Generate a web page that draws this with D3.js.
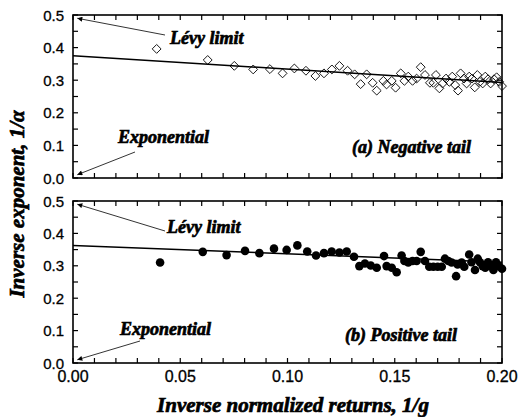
<!DOCTYPE html>
<html>
<head>
<meta charset="utf-8">
<script src="https://cdnjs.cloudflare.com/ajax/libs/d3/7.8.5/d3.min.js"></script>
<style>
  html, body { margin: 0; padding: 0; background: #fff; }
  svg { display: block; }
</style>
</head>
<body>
<svg id="chart" width="520" height="417"></svg>
<script>
// Inverse normalized returns 1/g and inverse tail exponent 1/alpha
const negX = [0.039, 0.0628, 0.0752, 0.084, 0.0918, 0.0977, 0.1032, 0.1086, 0.113, 0.117, 0.1207, 0.1242, 0.128, 0.1313, 0.1341, 0.1369, 0.1397, 0.1416, 0.1447, 0.1462, 0.1486, 0.1504, 0.1528, 0.1545, 0.1563, 0.1583, 0.1602, 0.1621, 0.1641, 0.1664, 0.168, 0.1692, 0.1708, 0.1723, 0.1739, 0.1754, 0.1768, 0.1782, 0.1795, 0.1807, 0.1823, 0.1835, 0.1847, 0.186, 0.1873, 0.1885, 0.1897, 0.191, 0.1922, 0.1935, 0.1947, 0.1963, 0.1975, 0.1987, 0.2];
const negY = [0.396, 0.362, 0.344, 0.333, 0.334, 0.321, 0.336, 0.329, 0.313, 0.321, 0.333, 0.344, 0.329, 0.318, 0.288, 0.318, 0.292, 0.268, 0.298, 0.287, 0.298, 0.277, 0.321, 0.298, 0.311, 0.298, 0.305, 0.340, 0.316, 0.292, 0.292, 0.316, 0.275, 0.290, 0.305, 0.295, 0.311, 0.285, 0.268, 0.321, 0.305, 0.290, 0.311, 0.305, 0.278, 0.316, 0.295, 0.290, 0.311, 0.303, 0.290, 0.303, 0.309, 0.295, 0.282];

const posX = [0.0406, 0.0605, 0.0716, 0.0802, 0.0869, 0.0937, 0.0996, 0.1046, 0.1092, 0.1133, 0.117, 0.1206, 0.1242, 0.1276, 0.131, 0.1335, 0.1361, 0.1388, 0.1416, 0.145, 0.1462, 0.1486, 0.1509, 0.1532, 0.1545, 0.1563, 0.1583, 0.1602, 0.1621, 0.1641, 0.1661, 0.168, 0.17, 0.1719, 0.1734, 0.175, 0.1765, 0.1786, 0.1793, 0.1812, 0.1824, 0.1847, 0.1858, 0.1874, 0.1887, 0.1897, 0.191, 0.1922, 0.1935, 0.1947, 0.196, 0.1972, 0.1985, 0.2];
const posY = [0.310, 0.343, 0.333, 0.346, 0.339, 0.353, 0.349, 0.363, 0.344, 0.332, 0.339, 0.344, 0.341, 0.344, 0.328, 0.299, 0.307, 0.301, 0.294, 0.330, 0.299, 0.294, 0.280, 0.332, 0.315, 0.310, 0.315, 0.315, 0.343, 0.315, 0.297, 0.297, 0.297, 0.297, 0.322, 0.315, 0.310, 0.268, 0.304, 0.310, 0.297, 0.335, 0.311, 0.287, 0.322, 0.311, 0.299, 0.294, 0.311, 0.299, 0.287, 0.311, 0.299, 0.291];

// Linear fits: [intercept, slope]
const negFit = [0.375, -0.41];
const posFit = [0.363, -0.26];

const xTicks = [0.00, 0.05, 0.10, 0.15, 0.20];
const yTicks = [0.0, 0.1, 0.2, 0.3, 0.4, 0.5];

const svg = d3.select("#chart");
const serif = "'Liberation Serif', 'Times New Roman', serif";
const sans = "'Liberation Sans', Arial, sans-serif";

const x = d3.scaleLinear().domain([0, 0.2]).range([73, 502]);

svg.append("defs").append("marker")
  .attr("id", "arr").attr("viewBox", "0 0 10 10")
  .attr("refX", 10).attr("refY", 5)
  .attr("markerWidth", 7).attr("markerHeight", 5)
  .attr("markerUnits", "userSpaceOnUse")
  .attr("orient", "auto")
  .append("path").attr("d", "M0,0 L10,5 L0,10 z").attr("fill", "#000");

// heavy italic serif used for all annotations and titles
function heavy(sel, size) {
  return sel.attr("font-family", serif).attr("font-weight", "bold").attr("font-style", "italic")
    .attr("font-size", size).attr("fill", "#000")
    .attr("stroke", "#000").attr("stroke-width", 0.7);
}

function panel(top, bottom, xs, ys, fit, kind, showX) {
  const y = d3.scaleLinear().domain([0, 0.5]).range([bottom, top]);
  const g = svg.append("g");

  // ticks on all four sides, pointing inward
  const xMinor = d3.range(0, 0.2001, 0.01);
  const yMinor = d3.range(0, 0.5001, 0.05);
  const tl = 5;
  xMinor.forEach(v => {
    g.append("line").attr("x1", x(v)).attr("x2", x(v)).attr("y1", bottom).attr("y2", bottom - tl)
      .attr("stroke", "#000").attr("stroke-width", 1.2);
    g.append("line").attr("x1", x(v)).attr("x2", x(v)).attr("y1", top).attr("y2", top + tl)
      .attr("stroke", "#000").attr("stroke-width", 1.2);
  });
  yMinor.forEach(v => {
    g.append("line").attr("x1", x(0)).attr("x2", x(0) + tl).attr("y1", y(v)).attr("y2", y(v))
      .attr("stroke", "#000").attr("stroke-width", 1.2);
    g.append("line").attr("x1", x(0.2)).attr("x2", x(0.2) - tl).attr("y1", y(v)).attr("y2", y(v))
      .attr("stroke", "#000").attr("stroke-width", 1.2);
  });

  // frame
  g.append("rect").attr("x", x(0)).attr("y", top)
    .attr("width", x(0.2) - x(0)).attr("height", bottom - top)
    .attr("fill", "none").attr("stroke", "#000").attr("stroke-width", 1.6);

  // y tick labels
  yTicks.forEach(v => {
    g.append("text").attr("x", 64).attr("y", y(v) + 5.5)
      .attr("text-anchor", "end").attr("font-family", sans).attr("font-size", 15)
      .attr("stroke", "#000").attr("stroke-width", 0.3)
      .text(v.toFixed(1));
  });

  if (showX) {
    xTicks.forEach(v => {
      g.append("text").attr("x", x(v)).attr("y", bottom + 19)
        .attr("text-anchor", "middle").attr("font-family", sans).attr("font-size", 16)
        .attr("stroke", "#000").attr("stroke-width", 0.3)
        .text(v.toFixed(2));
    });
  }

  // fit line
  const line = d3.line().x(d => x(d)).y(d => y(fit[0] + fit[1] * d));
  g.append("path").datum([0, 0.2]).attr("d", line)
    .attr("fill", "none").attr("stroke", "#000").attr("stroke-width", 1.5);

  // data points
  const pts = xs.map((v, i) => [v, ys[i]]);
  if (kind === "diamond") {
    g.selectAll(".pt").data(pts).enter().append("path")
      .attr("d", d3.symbol().type(d3.symbolDiamond2).size(50))
      .attr("transform", d => `translate(${x(d[0])},${y(d[1])})`)
      .attr("fill", "none").attr("stroke", "#000").attr("stroke-width", 0.9);
  } else {
    g.selectAll(".pt").data(pts).enter().append("circle")
      .attr("cx", d => x(d[0])).attr("cy", d => y(d[1])).attr("r", 4.3)
      .attr("fill", "#000");
  }

  return { g, y };
}

function annotate(g, y, levy, expo, label) {
  // Lévy limit arrow and label
  g.append("line").attr("x1", levy.ax).attr("y1", levy.ay)
    .attr("x2", x(0.002)).attr("y2", y(0.49))
    .attr("stroke", "#000").attr("stroke-width", 0.8).attr("marker-end", "url(#arr)");
  heavy(g.append("text"), 18).attr("x", levy.tx).attr("y", levy.ty).text("Lévy limit");
  // Exponential arrow and label
  g.append("line").attr("x1", expo.ax).attr("y1", expo.ay)
    .attr("x2", x(0.002)).attr("y2", y(0.01))
    .attr("stroke", "#000").attr("stroke-width", 0.8).attr("marker-end", "url(#arr)");
  heavy(g.append("text"), 18).attr("x", expo.tx).attr("y", expo.ty).text("Exponential");
  heavy(g.append("text"), 18).attr("x", label.x).attr("y", label.y)
    .attr("text-anchor", "end").text(label.text);
}

const pa = panel(15, 178, negX, negY, negFit, "diamond", false);
annotate(pa.g, pa.y,
  { ax: 165, ay: 35, tx: 170, ty: 44 },
  { ax: 135, ay: 152, tx: 118, ty: 143 },
  { x: 471, y: 153, text: "(a) Negative tail" });

const pb = panel(201, 363, posX, posY, posFit, "circle", true);
annotate(pb.g, pb.y,
  { ax: 165, ay: 231, tx: 167, ty: 233 },
  { ax: 140, ay: 341, tx: 120, ty: 335 },
  { x: 457, y: 341, text: "(b) Positive tail" });

// axis titles
heavy(svg.append("text"), 21)
  .attr("transform", "translate(24,204) rotate(-90)")
  .attr("text-anchor", "middle")
  .text("Inverse exponent, 1/α");

heavy(svg.append("text"), 21).attr("x", 293).attr("y", 412)
  .attr("text-anchor", "middle")
  .text("Inverse normalized returns, 1/g");
</script>
</body>
</html>
